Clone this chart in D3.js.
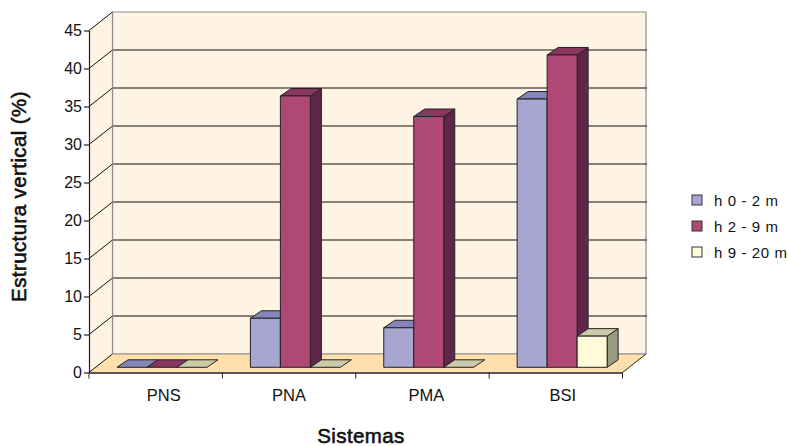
<!DOCTYPE html>
<html><head><meta charset="utf-8">
<script src="https://cdn.jsdelivr.net/npm/d3@7"></script>
<style>
html,body{margin:0;padding:0;background:#fff}
svg{display:block}
text{font-family:"Liberation Sans",Arial,sans-serif;fill:#111}
</style></head><body>
<svg id="c" width="788" height="446"></svg>
<script>
const categories = ["PNS","PNA","PMA","BSI"];
const categoryShift = [8,0,4,7];
const seriesNames = ["h 0 - 2 m","h 2 - 9 m","h 9 - 20 m"];
const h0_2 = [0, 6.45, 5.2, 35.3];
const h2_9 = [0, 35.7, 33.0, 41.1];
const h9_20 = [0, 0, 0, 4.1];
const yTicks = [0,5,10,15,20,25,30,35,40,45];
const front = ["#A6A6D0","#AF4875","#FFFBD8"];
const topC  = ["#8585B8","#8A365E","#CCC9A8"];
const sideC = ["#6E6E9E","#60264A","#9A9A80"];

const svg = d3.select("#c");
const W = {l:89, r:622.5, b:372.5, t:30.5, dx:23.5, dy:-18.5};
const y = d3.scaleLinear().domain([0,45]).range([W.b,W.t]);
const x = d3.scaleBand().domain(categories).range([W.l,W.r]);
const inner = d3.scaleBand().domain(d3.range(3)).range([28,28+90]);
const barDx = 11, barDy = -7.5, barBase = -5.2;
const poly = (pts,fill,stroke="#222",sw=1)=>svg.append("polygon")
  .attr("points",pts.map(p=>p.join(",")).join(" ")).attr("fill",fill).attr("stroke",stroke).attr("stroke-width",sw).attr("stroke-linejoin","round");

// walls
poly([[W.l+W.dx,W.t+W.dy],[W.r+W.dx,W.t+W.dy],[W.r+W.dx,W.b+W.dy],[W.l+W.dx,W.b+W.dy]],"#FFF3E4","#8c8c8c",1.2);
poly([[W.l,W.t],[W.l+W.dx,W.t+W.dy],[W.l+W.dx,W.b+W.dy],[W.l,W.b]],"#FFF3E4","none",0);
poly([[W.l,W.b],[W.l+W.dx,W.b+W.dy],[W.r+W.dx,W.b+W.dy],[W.r,W.b]],"#FFE0AC","none",0);
// gridlines
yTicks.forEach(t=>{
  const yy=y(t);
  svg.append("line").attr("x1",W.l).attr("y1",yy).attr("x2",W.l+W.dx).attr("y2",yy+W.dy).attr("stroke","#111");
  if(t>0 && t<45) svg.append("line").attr("x1",W.l+W.dx).attr("y1",yy+W.dy).attr("x2",W.r+W.dx+1).attr("y2",yy+W.dy).attr("stroke","#111").attr("stroke-width",1.2);
});
svg.append("line").attr("x1",W.l+W.dx).attr("y1",W.b+W.dy).attr("x2",W.r+W.dx).attr("y2",W.b+W.dy).attr("stroke","#8c8c8c");
svg.append("line").attr("x1",W.l+W.dx).attr("y1",W.t+W.dy).attr("x2",W.l+W.dx).attr("y2",W.b+W.dy).attr("stroke","#8c8c8c").attr("stroke-width",1.2);
svg.append("line").attr("x1",W.r).attr("y1",W.b).attr("x2",W.r+W.dx).attr("y2",W.b+W.dy).attr("stroke","#222");

// bars
const series=[h0_2,h2_9,h9_20];
categories.forEach((c,ci)=>{
  series.forEach((vals,si)=>{
    const v=vals[ci];
    const x0=x(c)+inner(si), x1=x0+inner.bandwidth();
    const yb=y(0)+barBase, yt=y(v)+barBase;
    if(v>0){
      poly([[x1,yt],[x1+barDx,yt+barDy],[x1+barDx,yb+barDy],[x1,yb]],sideC[si]);
    }
    poly([[x0,yt],[x0+barDx,yt+barDy],[x1+barDx,yt+barDy],[x1,yt]],topC[si]);
    if(v>0){
      poly([[x0,yt],[x1,yt],[x1,yb],[x0,yb]],front[si]);
    }
  });
});

// axes
const ga=svg.append("g").attr("transform",`translate(${W.l},0)`)
  .call(d3.axisLeft(y).tickValues(yTicks).tickSize(5).tickPadding(2).tickSizeOuter(0));
const gb=svg.append("g").attr("transform",`translate(0,${W.b})`)
  .call(d3.axisBottom(x).tickSize(0).tickPadding(17));
gb.selectAll(".tick line").remove();
gb.selectAll(".tick text").attr("dx",(d,i)=>categoryShift[i]);
[...categories.map(c=>x(c)),W.r].forEach(px=>gb.append("line").attr("x1",px).attr("x2",px).attr("y1",0).attr("y2",6).attr("stroke","#222"));
ga.selectAll("path,line").attr("stroke","#222").attr("stroke-width",1.2);
gb.selectAll("path").attr("stroke","#222").attr("stroke-width",1.4);
ga.selectAll("text").attr("font-size",16).style("font-family",'"Liberation Sans",Arial,sans-serif').attr("fill","#111");
gb.selectAll("text").attr("font-size",16.5).style("font-family",'"Liberation Sans",Arial,sans-serif').attr("fill","#111");

// titles
const titleStyle=s=>s.attr("font-size",20.5).attr("letter-spacing",0.4).attr("stroke","#111").attr("stroke-width",0.6);
svg.append("text").attr("x",361).attr("y",442.5).attr("text-anchor","middle").call(titleStyle).text("Sistemas");
svg.append("text").attr("transform","translate(26,196.5) rotate(-90)").attr("text-anchor","middle").call(titleStyle).text("Estructura vertical (%)");

// legend
const ly=d3.scalePoint().domain(seriesNames).range([200,252]);
seriesNames.forEach((n,i)=>{
  svg.append("rect").attr("x",692).attr("y",ly(n)-5).attr("width",10).attr("height",10).attr("fill",front[i]).attr("stroke","#333").attr("stroke-width",1);
  svg.append("text").attr("x",714).attr("y",ly(n)+5.5).attr("font-size",15).attr("letter-spacing",0.6).text(n);
});
</script>
</body></html>
